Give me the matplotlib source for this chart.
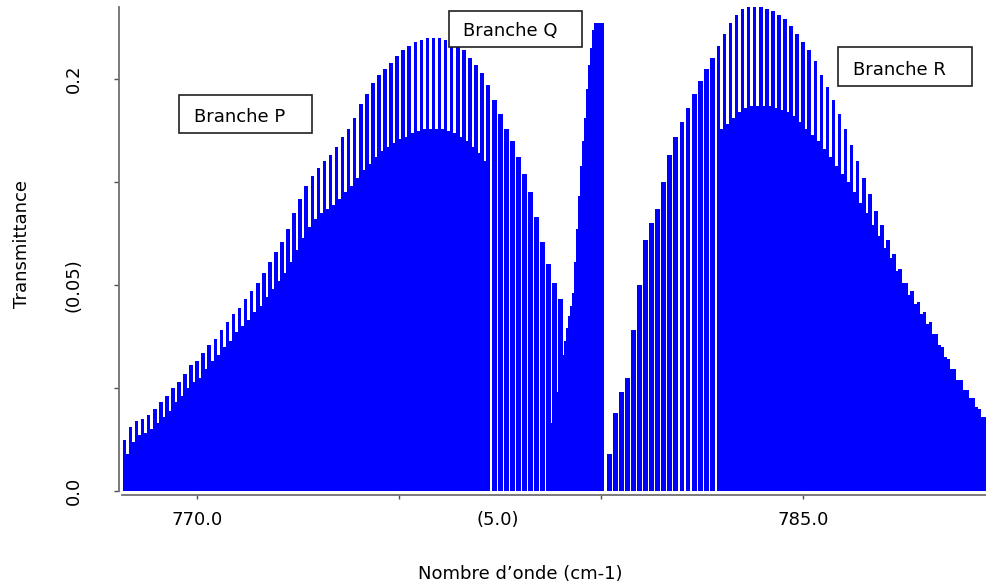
import numpy as np
import matplotlib.pyplot as plt
from matplotlib.patches import Rectangle

plt.rcParams['font.family'] = 'DejaVu Sans'
plt.rcParams['font.size'] = 13

# --- line spectrum ---
# P branch: strong lines and weaker interleaved lines
p_start, p_step = 768.2, 0.15
p_strong = [0.025, 0.031, 0.034, 0.035, 0.037, 0.040, 0.043, 0.046, 0.050, 0.053,
            0.057, 0.061, 0.063, 0.067, 0.071, 0.074, 0.078, 0.082, 0.086, 0.089,
            0.093, 0.097, 0.101, 0.106, 0.111, 0.116, 0.121, 0.127, 0.135, 0.142,
            0.148, 0.153, 0.157, 0.160, 0.163, 0.167, 0.172, 0.176, 0.181, 0.188,
            0.193, 0.198, 0.202, 0.205, 0.208, 0.211, 0.214, 0.216, 0.218, 0.219,
            0.220, 0.220, 0.220, 0.219, 0.218, 0.216, 0.214, 0.210, 0.207, 0.203,
            0.197, 0.190, 0.183, 0.176, 0.170, 0.162, 0.154, 0.145, 0.133, 0.121,
            0.110, 0.101, 0.093]
p_weak = [0.018, 0.024, 0.027, 0.028, 0.030, 0.033, 0.036, 0.039, 0.043, 0.046,
          0.050, 0.053, 0.055, 0.059, 0.063, 0.066, 0.070, 0.073, 0.077, 0.080,
          0.083, 0.087, 0.090, 0.094, 0.098, 0.102, 0.106, 0.111, 0.117, 0.123,
          0.128, 0.132, 0.135, 0.137, 0.139, 0.142, 0.145, 0.148, 0.152, 0.156,
          0.159, 0.162, 0.165, 0.167, 0.169, 0.171, 0.172, 0.174, 0.175, 0.176,
          0.176, 0.176, 0.176, 0.175, 0.174, 0.172, 0.170, 0.167, 0.164, 0.160]

# Q branch: packed lines
q_start, q_step = 778.7, 0.05
q_lines = [0.027, 0.033, 0.038, 0.043, 0.048, 0.053, 0.058, 0.066, 0.073, 0.079,
           0.085, 0.090, 0.096, 0.111, 0.127, 0.143, 0.158, 0.170, 0.181, 0.195,
           0.207, 0.215, 0.224, 0.227, 0.227, 0.227, 0.227, 0.227]

# R branch
r_start, r_step = 780.2, 0.15
r_strong = [0.018, 0.038, 0.048, 0.055, 0.078, 0.100, 0.122, 0.130, 0.137, 0.150,
            0.163, 0.172, 0.179, 0.186, 0.193, 0.199, 0.205, 0.210, 0.216, 0.222,
            0.227, 0.231, 0.234, 0.235, 0.235, 0.235, 0.234, 0.233, 0.231, 0.229,
            0.226, 0.222, 0.218, 0.214, 0.209, 0.202, 0.196, 0.190, 0.183, 0.176,
            0.168, 0.160, 0.152, 0.144, 0.136, 0.129, 0.122, 0.115, 0.108, 0.101,
            0.097, 0.092, 0.087, 0.082, 0.076, 0.070, 0.064, 0.059, 0.054, 0.049,
            0.045, 0.040, 0.036, 0.033]
r_weak = [0.0] * 18 + [
          0.176, 0.178, 0.181, 0.184, 0.186, 0.187, 0.187, 0.187, 0.187, 0.186,
          0.185, 0.184, 0.182, 0.179, 0.176, 0.173, 0.170, 0.166, 0.162, 0.158,
          0.154, 0.150, 0.145, 0.140, 0.135, 0.129, 0.124, 0.118, 0.113, 0.107,
          0.101, 0.095, 0.091, 0.086, 0.081, 0.076, 0.071, 0.065, 0.059, 0.054,
          0.049, 0.045, 0.041, 0.036, 0.033, 0.030]

x_ticks = [770, 775, 780, 785]
x_tick_labels = ['770.0', '', '', '785.0']
x_mid_label_pos = 777.43
x_mid_label = '(5.0)'
y_ticks = [0.0, 0.05, 0.1, 0.15, 0.2]
y_tick_labels = ['0.0', '', '(0.05)', '', '0.2']

branch_names = ['Branche P', 'Branche Q', 'Branche R']
# boxes in pixel coords of the 987x588 picture: left, top, width, height
branch_boxes = [(179, 95, 133, 38), (449, 11, 133, 36), (838, 47, 134, 39)]
branch_text_xy = [(240, 117), (510, 31), (899, 70)]

W, H = 987, 588
blue = '#0000ff'


def px(x, y):
    return x / W, 1 - y / H


fig = plt.figure(figsize=(W / 100, H / 100), dpi=100)
ax = fig.add_axes([122 / W, 1 - 491 / H, 865 / W, 484 / H])

p_x = p_start + p_step * np.arange(len(p_strong))
q_x = q_start + q_step * np.arange(len(q_lines))
r_x = r_start + r_step * np.arange(len(r_strong))

# strong lines are drawn narrow where a weak line sits beside them,
# wider where they stand alone
bw, bw_alone = 0.088, 0.12
p_w = np.where(np.arange(len(p_strong)) < len(p_weak), bw, bw_alone)
r_w = np.where(np.array(r_weak) > 0, bw, bw_alone)

ax.bar(p_x, p_strong, width=p_w, color=blue, linewidth=0)
ax.bar(p_x[:len(p_weak)] + p_step / 2, p_weak, width=bw, color=blue, linewidth=0)
ax.bar(q_x, q_lines, width=q_step * 1.15, color=blue, linewidth=0)
ax.bar(r_x, r_strong, width=r_w, color=blue, linewidth=0)
ax.bar(r_x + r_step / 2, r_weak, width=bw, color=blue, linewidth=0)

ax.set_xlim(768.14, 789.55)
ax.set_ylim(0, 0.235)

for s in ['top', 'right']:
    ax.spines[s].set_visible(False)
ax.spines['left'].set_position(('outward', 2.2))
ax.spines['bottom'].set_position(('outward', 2.9))
for s in ['left', 'bottom']:
    ax.spines[s].set_color('#707070')
    ax.spines[s].set_linewidth(1.3)

ax.set_xticks(x_ticks)
ax.set_xticklabels(x_tick_labels)
ax.set_xticks([x_mid_label_pos], minor=True)
ax.set_xticklabels([x_mid_label], minor=True)
ax.set_yticks(y_ticks)
ax.set_yticklabels(y_tick_labels, rotation=90, va='center')

ax.tick_params(axis='x', which='major', length=3, width=1, color='#505050', pad=8.5)
ax.tick_params(axis='x', which='minor', length=0, pad=11.5)
ax.tick_params(axis='y', length=3.6, width=1, color='#505050', pad=22.5)

ax.set_xlabel('Nombre d\u2019onde (cm-1)')
ax.xaxis.set_label_coords(0.46, -0.153)
ax.set_ylabel('Transmittance')
ax.yaxis.set_label_coords(-0.105, 0.51)

for name, (bx, by, bwid, bh), (tx, ty) in zip(branch_names, branch_boxes, branch_text_xy):
    x0, y0 = px(bx, by + bh)
    fig.patches.append(Rectangle((x0, y0), bwid / W, bh / H, transform=fig.transFigure,
                                 facecolor='white', edgecolor='#202020', linewidth=1.2))
    fx, fy = px(tx, ty)
    fig.text(fx, fy, name, ha='center', va='center', fontsize=13)

fig.savefig('out.png', dpi=100)
